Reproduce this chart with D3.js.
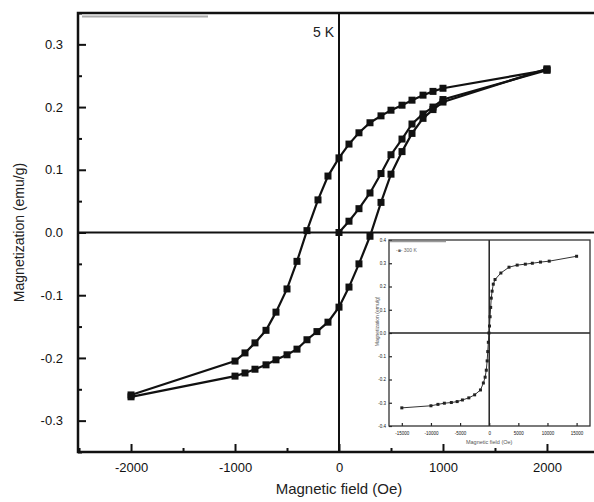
<!DOCTYPE html>
<html>
<head>
<meta charset="utf-8">
<script src="https://cdn.jsdelivr.net/npm/d3@7"></script>
<style>
  body { margin: 0; background: #fff; }
  svg { display: block; font-family: Arial, "Liberation Sans", sans-serif; }
  .tick text { fill: #111; }
</style>
</head>
<body>
<svg width="594" height="502"></svg>
<script>
// hysteresis loop at 5 K
const virginH = [0, 96, 192, 298, 404, 500, 606, 702, 808, 904, 1000, 2000];
const virginM = [0, 0.018, 0.038, 0.063, 0.094, 0.124, 0.149, 0.173, 0.189, 0.200, 0.212, 0.259];

const downH = [2000, 1000, 904, 808, 702, 606, 500, 404, 298, 192, 96, 0, -106, -202, -308, -404, -500, -606, -702, -808, -904, -1000, -2000];
const downM = [0.259, 0.230, 0.225, 0.219, 0.211, 0.203, 0.195, 0.186, 0.175, 0.159, 0.141, 0.119, 0.090, 0.052, 0.003, -0.046, -0.090, -0.127, -0.156, -0.176, -0.192, -0.205, -0.259];

const upH = [-2000, -1000, -904, -808, -702, -606, -500, -404, -308, -212, -106, 0, 96, 192, 298, 404, 500, 606, 702, 808, 904, 1000, 2000];
const upM = [-0.262, -0.229, -0.224, -0.218, -0.211, -0.203, -0.195, -0.186, -0.171, -0.158, -0.143, -0.119, -0.087, -0.050, -0.006, 0.048, 0.093, 0.129, 0.158, 0.182, 0.196, 0.208, 0.261];

// inset: wide field sweep
const insetH = [-15000, -10000, -8800, -7700, -6500, -5500, -4600, -3500, -2500, -1500, -1000, -700, -500, -350, -250, -150, -50, 50, 150, 250, 350, 500, 700, 1000, 2000, 3400, 4800, 6200, 7400, 8800, 10300, 15000];
const insetM = [-0.322, -0.313, -0.307, -0.302, -0.299, -0.295, -0.288, -0.279, -0.266, -0.245, -0.215, -0.19, -0.16, -0.12, -0.08, -0.04, 0, 0.03, 0.07, 0.11, 0.15, 0.18, 0.21, 0.23, 0.258, 0.283, 0.292, 0.296, 0.300, 0.305, 0.309, 0.330];

const xTicks = [-2000, -1000, 0, 1000, 2000];
const xMinor = [-2500, -1500, -500, 500, 1500, 2500];
const yTicks = [-0.3, -0.2, -0.1, 0.0, 0.1, 0.2, 0.3];
const yMinor = [-0.35, -0.25, -0.15, -0.05, 0.05, 0.15, 0.25, 0.35];

const insetXTicks = [-15000, -10000, -5000, 0, 5000, 10000, 15000];
const insetYTicks = [-0.4, -0.3, -0.2, -0.1, 0.0, 0.1, 0.2, 0.3, 0.4];

// plain hyphen for negative numbers, as in the original
const locale = d3.formatLocale({decimal: ".", thousands: "", grouping: [3], currency: ["", ""], minus: "-"});
const fmtInt = locale.format("d");
const fmtOne = locale.format(".1f");

const svg = d3.select("svg");

const x = d3.scaleLinear().domain([-2510, 2510]).range([78, 600]);
const y = d3.scaleLinear().domain([-0.35, 0.35]).range([452, 13]);

const zip = (hs, ms) => hs.map((h, i) => [h, ms[i]]);

// zero lines
svg.append("line")
   .attr("x1", x.range()[0]).attr("x2", x.range()[1])
   .attr("y1", y(0)).attr("y2", y(0))
   .attr("stroke", "#111").attr("stroke-width", 2.2);
svg.append("line")
   .attr("x1", x(0)).attr("x2", x(0))
   .attr("y1", y.range()[0]).attr("y2", y.range()[1])
   .attr("stroke", "#111").attr("stroke-width", 2);

// curves
const line = d3.line().x(d => x(d[0])).y(d => y(d[1]));
const series = [zip(virginH, virginM), zip(downH, downM), zip(upH, upM)];

svg.append("g").selectAll("path")
   .data(series)
   .join("path")
     .attr("d", line)
     .attr("fill", "none")
     .attr("stroke", "#111")
     .attr("stroke-width", 2.2);

svg.append("g").selectAll("rect")
   .data(series.flat())
   .join("rect")
     .attr("x", d => x(d[0]) - 3.5)
     .attr("y", d => y(d[1]) - 3.5)
     .attr("width", 7)
     .attr("height", 7)
     .attr("fill", "#111");

// axes, ticks inward
const bottom = svg.append("g").attr("transform", `translate(0,${y.range()[0]})`);
bottom.call(d3.axisBottom(x).tickValues(xTicks).tickSizeInner(-8).tickSizeOuter(0).tickPadding(16).tickFormat(fmtInt));
bottom.append("g").call(d3.axisBottom(x).tickValues(xMinor).tickSizeInner(-4).tickSizeOuter(0).tickFormat(""));

const left = svg.append("g").attr("transform", `translate(${x.range()[0]},0)`);
left.call(d3.axisLeft(y).tickValues(yTicks).tickSizeInner(-8).tickSizeOuter(0).tickPadding(15).tickFormat(fmtOne));
left.append("g").call(d3.axisLeft(y).tickValues(yMinor).tickSizeInner(-4).tickSizeOuter(0).tickFormat(""));

svg.selectAll(".domain").remove();
svg.selectAll(".tick line").attr("stroke", "#111").attr("stroke-width", 2);
bottom.selectAll(".tick text").attr("font-size", 13).attr("dy", "0.3em");
left.selectAll(".tick text").attr("font-size", 13);

// frame
svg.append("rect")
   .attr("x", x.range()[0]).attr("y", y.range()[1])
   .attr("width", x.range()[1] - x.range()[0])
   .attr("height", y.range()[0] - y.range()[1])
   .attr("fill", "none").attr("stroke", "#111").attr("stroke-width", 2.5);

// faint legend remnant under the top frame
svg.append("line")
   .attr("x1", 82).attr("x2", 208).attr("y1", 16.5).attr("y2", 16.5)
   .attr("stroke", "#aaa").attr("stroke-width", 2);

svg.append("text")
   .attr("x", x(0) - 5).attr("y", 37)
   .attr("text-anchor", "end")
   .attr("font-size", 14)
   .attr("fill", "#222")
   .text("5 K");

svg.append("text")
   .attr("transform", `translate(24,${y(0)}) rotate(-90)`)
   .attr("text-anchor", "middle")
   .attr("font-size", 14)
   .attr("fill", "#222")
   .text("Magnetization (emu/g)");

svg.append("text")
   .attr("x", x(0)).attr("y", 494)
   .attr("text-anchor", "middle")
   .attr("font-size", 15)
   .attr("fill", "#222")
   .text("Magnetic field (Oe)");

// inset
const ix = d3.scaleLinear().domain([-17200, 17300]).range([389, 590]);
const iy = d3.scaleLinear().domain([-0.4, 0.4]).range([426, 240]);
const inset = svg.append("g").attr("class", "inset");

inset.append("rect")
   .attr("x", ix.range()[0]).attr("y", iy.range()[1])
   .attr("width", ix.range()[1] - ix.range()[0])
   .attr("height", iy.range()[0] - iy.range()[1])
   .attr("fill", "#fff");

inset.append("line")
   .attr("x1", ix.range()[0]).attr("x2", ix.range()[1])
   .attr("y1", iy(0)).attr("y2", iy(0))
   .attr("stroke", "#222").attr("stroke-width", 1.5);
inset.append("line")
   .attr("x1", ix(0)).attr("x2", ix(0))
   .attr("y1", iy.range()[0]).attr("y2", iy.range()[1])
   .attr("stroke", "#222").attr("stroke-width", 1.5);

const iline = d3.line().x(d => ix(d[0])).y(d => iy(d[1]));
const insetPts = zip(insetH, insetM);
inset.append("path")
   .attr("d", iline(insetPts))
   .attr("fill", "none").attr("stroke", "#333").attr("stroke-width", 1);
inset.append("g").selectAll("rect")
   .data(insetPts)
   .join("rect")
     .attr("x", d => ix(d[0]) - 1.5)
     .attr("y", d => iy(d[1]) - 1.5)
     .attr("width", 3).attr("height", 3)
     .attr("fill", "#222");

const ib = inset.append("g").attr("transform", `translate(0,${iy.range()[0]})`);
ib.call(d3.axisBottom(ix).tickValues(insetXTicks).tickSizeInner(-3).tickSizeOuter(0).tickPadding(6).tickFormat(fmtInt));
const il = inset.append("g").attr("transform", `translate(${ix.range()[0]},0)`);
il.call(d3.axisLeft(iy).tickValues(insetYTicks).tickSizeInner(-3).tickSizeOuter(0).tickPadding(3).tickFormat(fmtOne));
inset.selectAll(".domain").remove();
inset.selectAll(".tick line").attr("stroke", "#222").attr("stroke-width", 1.2);
inset.selectAll(".tick text").attr("font-size", 4.5).attr("fill", "#555");

inset.append("rect")
   .attr("x", ix.range()[0]).attr("y", iy.range()[1])
   .attr("width", ix.range()[1] - ix.range()[0])
   .attr("height", iy.range()[0] - iy.range()[1])
   .attr("fill", "none").attr("stroke", "#333").attr("stroke-width", 1.3);

inset.append("line")
   .attr("x1", 390).attr("x2", 446).attr("y1", 241.5).attr("y2", 241.5)
   .attr("stroke", "#999").attr("stroke-width", 1.5);
inset.append("text")
   .attr("x", 396).attr("y", 252)
   .attr("font-size", 5).attr("fill", "#666")
   .text("-■- 300 K");

inset.append("text")
   .attr("transform", `translate(379,${iy(0.05)}) rotate(-90)`)
   .attr("text-anchor", "middle")
   .attr("font-size", 5).attr("fill", "#555")
   .text("Magnetization (emu/g)");
inset.append("text")
   .attr("x", ix(0)).attr("y", 444)
   .attr("text-anchor", "middle")
   .attr("font-size", 5.5).attr("fill", "#555")
   .text("Magnetic field (Oe)");
</script>
</body>
</html>
